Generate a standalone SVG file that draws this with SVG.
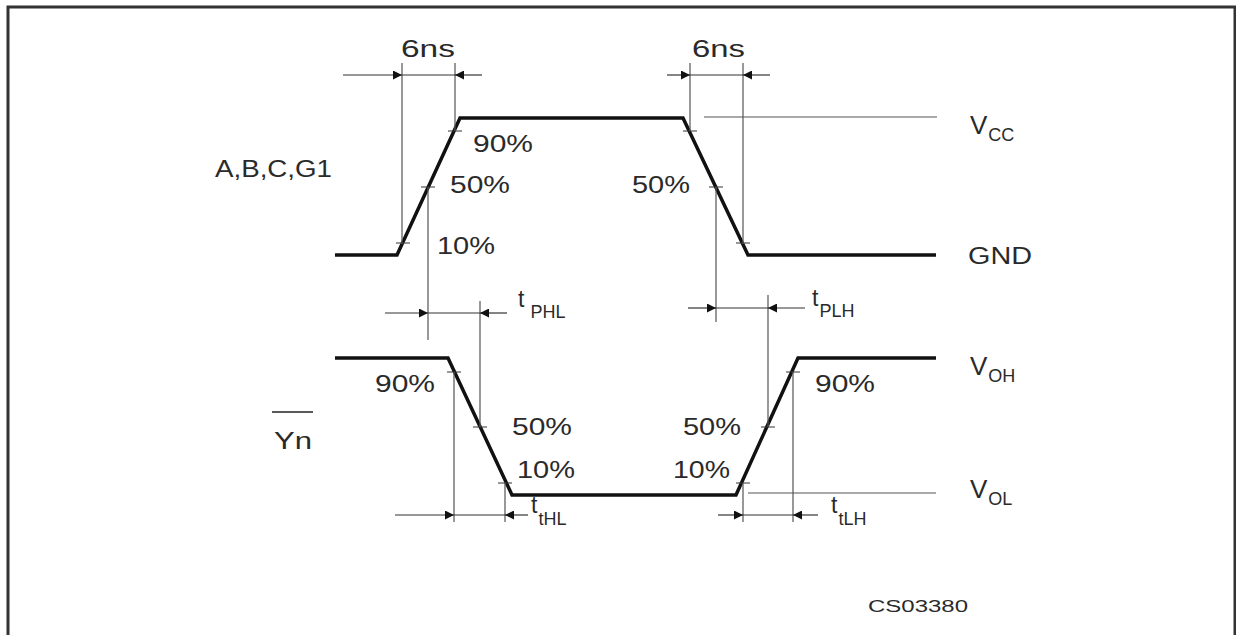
<svg xmlns="http://www.w3.org/2000/svg" width="1236" height="635" viewBox="0 0 1236 635">
<defs>
<style>
.wave{fill:none;stroke:#111;stroke-width:3.5;stroke-linejoin:miter}
.thin{fill:none;stroke:#555;stroke-width:1.2}
.tick{fill:none;stroke:#333;stroke-width:1}
.dim{fill:none;stroke:#333;stroke-width:1.2}
.lbl{font-family:"Liberation Sans",Arial,sans-serif;font-size:23px;fill:#2a2a2a}
.big{font-family:"Liberation Sans",Arial,sans-serif;font-size:26px;fill:#2a2a2a}
.sub{font-family:"Liberation Sans",Arial,sans-serif;font-size:18px;fill:#2a2a2a}
.code{font-family:"Liberation Sans",Arial,sans-serif;font-size:16px;fill:#2a2a2a}
</style>
<marker id="ah" viewBox="0 0 10 10" refX="10" refY="5" markerWidth="10" markerHeight="9" markerUnits="userSpaceOnUse" orient="auto">
<path d="M0,0 L10,5 L0,10 Z" fill="#111"/>
</marker>
</defs>
<rect width="1236" height="635" fill="#fff"/>
<path id="frame" d="M8,635 V7 H1235 V635" fill="none" stroke="#333" stroke-width="3"/>

<g id="input-wave">
<path class="wave" d="M335,255 H397 L460,118 H683 L748,255 H936"/>
<path class="tick" d="M396,243 H410 M448,131 H462 M421,187 H435 M683,131 H697 M709,187 H723 M736,243 H750"/>
</g>
<g id="output-wave">
<path class="wave" d="M335,358 H448 L512,495 H736 L798,358 H936"/>
<path class="tick" d="M447,372 H461 M473,427 H487 M498,483 H512 M736,483 H750 M761,427 H775 M786,372 H800"/>
</g>

<g id="connectors">
<path class="thin" d="M402,63 V244 M455,63 V131 M428,187 V340 M690,63 V131 M743,63 V244 M716,187 V322 M704,117 H937"/>
<path class="thin" d="M480,301 V427 M768,295 V427 M454,372 V522 M505,483 V522 M743,483 V522 M793,372 V522 M748,493 H936" stroke="#666"/>
<g class="dim">
<line x1="343" y1="75" x2="402" y2="75" marker-end="url(#ah)"/>
<line x1="402" y1="75" x2="455" y2="75"/>
<line x1="482" y1="75" x2="455" y2="75" marker-end="url(#ah)"/>
<line x1="667" y1="75" x2="690" y2="75" marker-end="url(#ah)"/>
<line x1="690" y1="75" x2="743" y2="75"/>
<line x1="770" y1="75" x2="743" y2="75" marker-end="url(#ah)"/>
<line x1="385" y1="313" x2="428" y2="313" marker-end="url(#ah)"/>
<line x1="428" y1="313" x2="480" y2="313"/>
<line x1="507" y1="313" x2="480" y2="313" marker-end="url(#ah)"/>
<line x1="688" y1="308" x2="716" y2="308" marker-end="url(#ah)"/>
<line x1="716" y1="308" x2="768" y2="308"/>
<line x1="805" y1="308" x2="768" y2="308" marker-end="url(#ah)"/>
<line x1="395" y1="515" x2="454" y2="515" marker-end="url(#ah)"/>
<line x1="454" y1="515" x2="505" y2="515"/>
<line x1="528" y1="515" x2="505" y2="515" marker-end="url(#ah)"/>
<line x1="718" y1="515" x2="743" y2="515" marker-end="url(#ah)"/>
<line x1="743" y1="515" x2="793" y2="515"/>
<line x1="818" y1="515" x2="793" y2="515" marker-end="url(#ah)"/>
</g>
</g>

<g id="labels">
<text class="lbl" x="401" y="57" textLength="54" lengthAdjust="spacingAndGlyphs">6ns</text>
<text class="lbl" x="692" y="57" textLength="53" lengthAdjust="spacingAndGlyphs">6ns</text>
<text class="lbl" x="215" y="177" textLength="117" lengthAdjust="spacingAndGlyphs">A,B,C,G1</text>
<text class="lbl" x="473" y="152" textLength="60" lengthAdjust="spacingAndGlyphs">90%</text>
<text class="lbl" x="450" y="193" textLength="60" lengthAdjust="spacingAndGlyphs">50%</text>
<text class="lbl" x="437" y="254" textLength="58" lengthAdjust="spacingAndGlyphs">10%</text>
<text class="lbl" x="632" y="193" textLength="58" lengthAdjust="spacingAndGlyphs">50%</text>
<text class="big" x="970" y="134">V<tspan class="sub" dy="7" dx="1">CC</tspan></text>
<text class="lbl" x="968" y="264" textLength="64" lengthAdjust="spacingAndGlyphs">GND</text>
<text class="lbl" x="518" y="307">t<tspan class="sub" dx="6" dy="11">PHL</tspan></text>
<text class="lbl" x="812" y="306">t<tspan class="sub" dx="1" dy="11">PLH</tspan></text>
<text class="lbl" x="375" y="392" textLength="60" lengthAdjust="spacingAndGlyphs">90%</text>
<text class="lbl" x="512" y="435" textLength="60" lengthAdjust="spacingAndGlyphs">50%</text>
<text class="lbl" x="517" y="478" textLength="58" lengthAdjust="spacingAndGlyphs">10%</text>
<text class="lbl" x="683" y="435" textLength="58" lengthAdjust="spacingAndGlyphs">50%</text>
<text class="lbl" x="673" y="478" textLength="57" lengthAdjust="spacingAndGlyphs">10%</text>
<text class="lbl" x="815" y="392" textLength="60" lengthAdjust="spacingAndGlyphs">90%</text>
<text class="big" x="970" y="375">V<tspan class="sub" dy="7" dx="1">OH</tspan></text>
<text class="big" x="970" y="498">V<tspan class="sub" dy="7" dx="1">OL</tspan></text>
<text class="lbl" x="274" y="449" textLength="38" lengthAdjust="spacingAndGlyphs">Yn</text>
<line x1="272" y1="412" x2="313" y2="412" stroke="#222" stroke-width="1.5"/>
<text class="lbl" x="531" y="513">t<tspan class="sub" dx="1" dy="12">tHL</tspan></text>
<text class="lbl" x="831" y="513">t<tspan class="sub" dx="1" dy="12">tLH</tspan></text>
<text class="code" x="868" y="612" textLength="100" lengthAdjust="spacingAndGlyphs">CS03380</text>
</g>
</svg>
